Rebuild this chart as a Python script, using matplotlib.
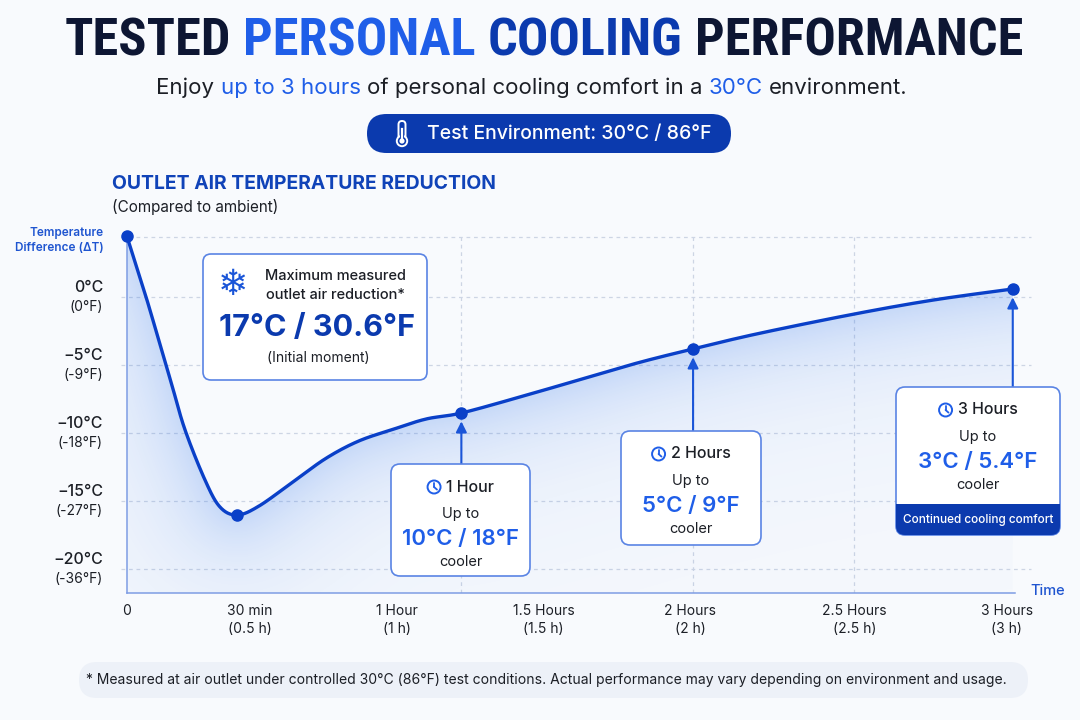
import numpy as np
import matplotlib

matplotlib.use("Agg")
import matplotlib.pyplot as plt
from matplotlib import font_manager
from matplotlib.patches import Circle, FancyBboxPatch, Polygon, Rectangle
from matplotlib.transforms import blended_transform_factory

W, H = 1080, 720

# values
CURVE_HOURS = [0.0, 0.065, 0.113, 0.153, 0.198, 0.266, 0.317, 0.375, 0.45, 0.57, 0.68,
               0.79, 0.91, 1.02, 1.14, 1.34, 1.54, 1.74, 1.93, 2.15, 2.48, 2.75, 3.02]
CURVE_DELTA = [4.45, 0.0, -3.53, -6.47, -9.78, -13.46, -15.44, -16.03, -15.37, -13.53, -11.84,
               -10.59, -9.71, -8.97, -8.53, -7.35, -6.10, -4.85, -3.82, -2.70, -1.25, -0.22, 0.59]
MARKER_IDX = [0, 7, 14, 18, 22]

XTICK_POS = [0.0, 0.42, 0.92, 1.42, 1.92, 2.48, 3.0]
XTICK_LABELS = ["0", "30 min\n(0.5 h)", "1 Hour\n(1 h)", "1.5 Hours\n(1.5 h)",
                "2 Hours\n(2 h)", "2.5 Hours\n(2.5 h)", "3 Hours\n(3 h)"]
VGRID_HOURS = [1.14, 1.93, 2.48]
YTICK_C = [0, -5, -10, -15, -20]
YTICK_C_LABELS = ["0°C", "−5°C", "−10°C", "−15°C", "−20°C"]
YTICK_F_LABELS = ["(0°F)", "(-9°F)", "(-18°F)", "(-27°F)", "(-36°F)"]

CALLOUT_TITLES = ["1 Hour", "2 Hours", "3 Hours"]
CALLOUT_VALUES = ["10°C / 18°F", "5°C / 9°F", "3°C / 5.4°F"]
CALLOUT_MARKER = [2, 3, 4]
MAX_VALUE = "17°C / 30.6°F"

# layout in figure pixels (from top-left)
PLOT_LEFT, PLOT_RIGHT, PLOT_TOP, PLOT_BOTTOM = 127, 1015, 237, 593
PX_PER_HOUR = 293.3
PX_PER_DEG = 13.6
ZERO_PX = 297
CALLOUT_BOXES = [(391, 464, 530, 576), (621, 431, 761, 545), (896, 387, 1060, 535)]
MAX_BOX = (203, 254, 427, 380)

NAVY = "#0d1633"
BRIGHT = "#1f5ee8"
DEEP = "#0b3aae"
LINE = "#0a40c8"
BORDER = "#5a84e4"
TEXT = "#1c1f26"
GRID = "#cdd5e4"

names = {f.name for f in font_manager.fontManager.ttflist}
BODY = ["Inter", "DejaVu Sans"] if "Inter" in names else ["DejaVu Sans"]
TITLE_FONT = next((n for n in ["Roboto Condensed", "Liberation Sans Narrow"] if n in names), BODY[0])
plt.rcParams["font.family"] = BODY


def catmull_rom(xs, ys, steps=24):
    pts = np.column_stack([xs, ys]).astype(float)
    n = len(pts)
    out = [pts[:1]]
    t = np.linspace(0, 1, steps)[1:, None]
    for i in range(n - 1):
        p0, p1, p2, p3 = pts[max(i - 1, 0)], pts[i], pts[i + 1], pts[min(i + 2, n - 1)]
        c1 = p1 + (p2 - p0) / 6
        c2 = p2 - (p3 - p1) / 6
        seg = ((1 - t) ** 3) * p1 + 3 * ((1 - t) ** 2) * t * c1 + 3 * (1 - t) * t ** 2 * c2 + t ** 3 * p2
        out.append(seg)
    res = np.vstack(out)
    return res[:, 0], res[:, 1]


def rbox(ax, x0, y0, x1, y1, r, fc, ec="none", lw=0.0, z=3):
    p = FancyBboxPatch((x0, y0), x1 - x0, y1 - y0, boxstyle=f"round,pad=0,rounding_size={r}",
                       fc=fc, ec=ec, lw=lw, zorder=z)
    ax.add_patch(p)
    return p


def draw_runs(ax, runs, cx, y, renderer, **kw):
    probe_a = ax.text(0, 0, "x x", **kw)
    probe_b = ax.text(0, 0, "xx", **kw)
    space = probe_a.get_window_extent(renderer).width - probe_b.get_window_extent(renderer).width
    probe_a.remove()
    probe_b.remove()
    texts = [ax.text(0, y, s, color=c, ha="left", va="center", **kw) for s, c in runs]
    widths = [t.get_window_extent(renderer).width for t in texts]
    total = sum(widths) + space * (len(texts) - 1)
    x = cx - total / 2
    for t, w in zip(texts, widths):
        t.set_x(x)
        x += w + space
    return total


def clock(ax, cx, cy, color=BRIGHT, r=6.5):
    ax.add_patch(Circle((cx, cy), r, fill=False, ec=color, lw=1.4, zorder=6))
    ax.plot([cx, cx], [cy, cy - r * 0.6], color=color, lw=1.3, zorder=6, solid_capstyle="round")
    ax.plot([cx, cx + r * 0.45], [cy, cy + r * 0.4], color=color, lw=1.3, zorder=6, solid_capstyle="round")


fig = plt.figure(figsize=(W / 100, H / 100), dpi=100, facecolor="#f8fafd")
renderer = fig.canvas.get_renderer()

ax = fig.add_axes([PLOT_LEFT / W, 1 - PLOT_BOTTOM / H, (PLOT_RIGHT - PLOT_LEFT) / W,
                   (PLOT_BOTTOM - PLOT_TOP) / H], zorder=2)
ax.set_facecolor("none")
xmax = (PLOT_RIGHT - PLOT_LEFT) / PX_PER_HOUR
ymin = (ZERO_PX - PLOT_BOTTOM) / PX_PER_DEG
ymax = (ZERO_PX - PLOT_TOP) / PX_PER_DEG
ax.set_xlim(0, xmax)
ax.set_ylim(ymin, ymax)

ov = fig.add_axes([0, 0, 1, 1], zorder=5)
ov.set_xlim(0, W)
ov.set_ylim(H, 0)
ov.axis("off")
ov.patch.set_alpha(0)

# grid
xg0 = -6 / PX_PER_HOUR
xg1 = (1031 - PLOT_LEFT) / PX_PER_HOUR
for v in YTICK_C + [ymax]:
    ax.plot([xg0, xg1], [v, v], color=GRID, lw=0.9, ls=(0, (3, 3)), clip_on=False, zorder=1)
for v in VGRID_HOURS:
    ax.plot([v, v], [ymin, ymax], color=GRID, lw=0.9, ls=(0, (3, 3)), zorder=1)

for side in ["top", "right"]:
    ax.spines[side].set_visible(False)
for side in ["left", "bottom"]:
    ax.spines[side].set_color("#7e9de4")
    ax.spines[side].set_linewidth(1.1)
ax.set_yticks([])
ax.set_xticks(XTICK_POS, XTICK_LABELS)
ax.tick_params(axis="x", length=0, pad=8, labelsize=10, labelcolor=TEXT)
for lbl in ax.get_xticklabels():
    lbl.set_linespacing(1.35)

# curve + glow
sx, sy = catmull_rom(CURVE_HOURS, CURVE_DELTA)
curve_disp = ax.transData.transform(np.column_stack([sx, sy]))
gx = np.linspace(0, xmax, 300)
gy = np.linspace(ymin, ymax, 130)
GX, GY = np.meshgrid(gx, gy)
grid_disp = ax.transData.transform(np.column_stack([GX.ravel(), GY.ravel()]))
dist = np.full(grid_disp.shape[0], np.inf)
for px, py in curve_disp[::2]:
    dist = np.minimum(dist, np.hypot(grid_disp[:, 0] - px, grid_disp[:, 1] - py))
dist = dist.reshape(GX.shape)
alpha = 0.19 * np.exp(-dist / 45) + 0.06 * np.exp(-dist / 220)
rgba = np.zeros(GX.shape + (4,))
rgba[..., 0], rgba[..., 1], rgba[..., 2] = 0.18, 0.45, 0.92
rgba[..., 3] = alpha
clip = Polygon(np.vstack([np.column_stack([sx, sy]), [[sx[-1], ymin], [sx[0], ymin]]]),
               closed=True, fc="none", ec="none", transform=ax.transData)
ax.add_patch(clip)
im = ax.imshow(rgba, extent=(0, xmax, ymin, ymax), origin="lower", aspect="auto",
               interpolation="bilinear", zorder=1.5)
im.set_clip_path(clip)

ax.plot(sx, sy, color=LINE, lw=2.4, zorder=4, clip_on=False, solid_capstyle="round")
mx = [CURVE_HOURS[i] for i in MARKER_IDX]
my = [CURVE_DELTA[i] for i in MARKER_IDX]
ax.plot(mx, my, "o", color=LINE, ms=8, zorder=5, clip_on=False)

# y tick labels (two-line, two sizes)
for v, lc, lf in zip(YTICK_C, YTICK_C_LABELS, YTICK_F_LABELS):
    py = H - ax.transData.transform((0, v))[1]
    ov.text(103, py - 9, lc, ha="right", va="center", fontsize=11.5, color=TEXT, fontweight="medium")
    ov.text(103, py + 10, lf, ha="right", va="center", fontsize=10, color=TEXT)

ov.text(104, 233, "Temperature", ha="right", va="center", fontsize=8.5, color="#1f55d0", fontweight="semibold")
ov.text(104, 248, "Difference (ΔT)", ha="right", va="center", fontsize=8.5, color="#1f55d0", fontweight="semibold")
ov.text(1030, 591, "Time", ha="left", va="center", fontsize=10.5, color="#1f55d0", fontweight="medium")

# title block
title_runs = [("TESTED", NAVY), ("PERSONAL", BRIGHT), ("COOLING", DEEP), ("PERFORMANCE", NAVY)]
probe = ov.text(0, 0, "TESTED PERSONAL COOLING PERFORMANCE", fontsize=30, fontweight="black",
                family=[TITLE_FONT, "DejaVu Sans"])
tfs = 30 * 958 / probe.get_window_extent(renderer).width
probe.remove()
draw_runs(ov, title_runs, 544, 42, renderer, fontsize=tfs, fontweight="black", family=[TITLE_FONT, "DejaVu Sans"])

sub_runs = [("Enjoy", TEXT), ("up to 3 hours", BRIGHT), ("of personal cooling comfort in a", TEXT),
            ("30°C", BRIGHT), ("environment.", TEXT)]
draw_runs(ov, sub_runs, 532, 88, renderer, fontsize=16, fontweight="normal")

rbox(ov, 367, 114, 731, 153, 19.5, DEEP)
ov.text(427, 134, "Test Environment: 30°C / 86°F", ha="left", va="center", fontsize=14,
        color="white", fontweight="medium", zorder=6)
# thermometer icon
rbox(ov, 398.5, 121, 405.5, 140, 3.5, DEEP, "white", 1.4, z=6)
ov.add_patch(Circle((402, 141), 5.2, fc=DEEP, ec="white", lw=1.4, zorder=6))
ov.add_patch(Rectangle((399.9, 128), 4.2, 12, fc=DEEP, ec="none", zorder=6.5))
ov.add_patch(Circle((402, 141), 2.6, fc="white", ec="none", zorder=7))
ov.plot([402, 402], [129, 139], color="white", lw=1.6, zorder=7)

ov.text(112, 184, "OUTLET AIR TEMPERATURE REDUCTION", ha="left", va="center", fontsize=13.9,
        color="#1043b8", fontweight="bold")
ov.text(112, 207, "(Compared to ambient)", ha="left", va="center", fontsize=11, color=TEXT)

# max callout
x0, y0, x1, y1 = MAX_BOX
rbox(ov, x0, y0, x1, y1, 8, "white", BORDER, 1.2)
ov.text(233, 285, "❄", ha="center", va="center", fontsize=26, color="#1a55d8", family=["DejaVu Sans"], zorder=6)
ov.text(335, 276, "Maximum measured", ha="center", va="center", fontsize=10.5, color=TEXT, fontweight="medium", zorder=6)
ov.text(335, 295, "outlet air reduction*", ha="center", va="center", fontsize=10.5, color=TEXT, fontweight="medium", zorder=6)
ov.text(317, 328, MAX_VALUE, ha="center", va="center", fontsize=22, color=DEEP, fontweight="bold", zorder=6)
ov.text(318, 358, "(Initial moment)", ha="center", va="center", fontsize=10, color=TEXT, zorder=6)

# time callouts
blend = blended_transform_factory(ax.transData, ov.transData)
for k, (box, ttl, val, mi) in enumerate(zip(CALLOUT_BOXES, CALLOUT_TITLES, CALLOUT_VALUES, CALLOUT_MARKER)):
    x0, y0, x1, y1 = box
    cx = (x0 + x1) / 2
    outer = rbox(ov, x0, y0, x1, y1, 9, "white", BORDER, 1.2)
    t = ov.text(0, y0 + 23, ttl, ha="left", va="center", fontsize=11.5, color=TEXT, fontweight="medium", zorder=6)
    tw = t.get_window_extent(renderer).width
    left = cx - (tw + 19) / 2
    clock(ov, left + 7, y0 + 23)
    t.set_x(left + 19)
    ov.text(cx, y0 + 50, "Up to", ha="center", va="center", fontsize=10.5, color=TEXT, zorder=6)
    ov.text(cx, y0 + 75, val, ha="center", va="center", fontsize=16, color=BRIGHT, fontweight="semibold", zorder=6)
    ov.text(cx, y0 + 98, "cooler", ha="center", va="center", fontsize=10.5, color=TEXT, zorder=6)
    if k == 2:
        band = Rectangle((x0, 504), x1 - x0, y1 - 504, fc=DEEP, ec="none", zorder=4)
        ov.add_patch(band)
        band.set_clip_path(outer)
        ov.text(cx, 519.5, "Continued cooling comfort", ha="center", va="center", fontsize=8.5,
                color="white", fontweight="medium", zorder=6)
    xm = CURVE_HOURS[MARKER_IDX[mi]]
    ym = CURVE_DELTA[MARKER_IDX[mi]]
    ax.annotate("", xy=(xm, ym), xycoords="data", xytext=(xm, y0), textcoords=blend,
                arrowprops=dict(arrowstyle="-|>", color="#1a55d8", lw=1.5, mutation_scale=16,
                                shrinkA=0, shrinkB=6), zorder=3, annotation_clip=False)

# footer
rbox(ov, 79, 662, 1028, 698, 18, "#edf1f8")
ov.text(546, 680, "* Measured at air outlet under controlled 30°C (86°F) test conditions. "
        "Actual performance may vary depending on environment and usage.",
        ha="center", va="center", fontsize=10.05, color=TEXT, zorder=6)

fig.savefig("out.png", dpi=100, facecolor=fig.get_facecolor())
